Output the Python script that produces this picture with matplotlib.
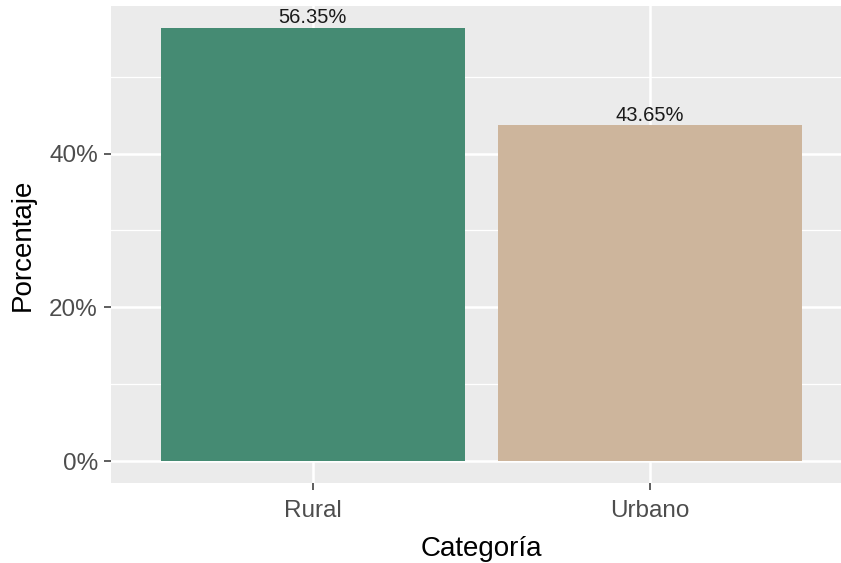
import matplotlib.pyplot as plt
from matplotlib.ticker import FixedLocator

plt.rcParams['font.family'] = ['Liberation Sans', 'DejaVu Sans']

# data
categorias = ['Rural', 'Urbano']
porcentajes = [56.35, 43.65]
colores = ['#458B73', '#CDB59C']
yticks = [0, 20, 40]
yminor = [10, 30, 50]

fig = plt.figure(figsize=(8.41, 5.63), dpi=100)
# panel runs off the right edge like in the original export
ax = fig.add_axes([110.5 / 841, 80 / 563, 742 / 841, 477 / 563])
ax.set_facecolor('#EBEBEB')

x = list(range(len(categorias)))
ax.bar(x, porcentajes, width=0.9, color=colores, zorder=3)

for xi, v in zip(x, porcentajes):
    ax.annotate(f'{v:.2f}%', (xi, v), xytext=(0, 0.5), textcoords='offset points',
                ha='center', va='bottom', fontsize=14.5, color='#1a1a1a', zorder=4)

ymax = max(porcentajes)
ax.set_ylim(-0.05 * ymax, 1.05 * ymax)
ax.set_xlim(-0.6, len(categorias) - 0.4)

ax.set_xticks(x)
ax.set_xticklabels(categorias)
ax.set_yticks(yticks)
ax.set_yticklabels([f'{t}%' for t in yticks])
ax.yaxis.set_minor_locator(FixedLocator(yminor))

ax.grid(which='major', color='white', linewidth=1.8, zorder=0)
ax.grid(which='minor', axis='y', color='white', linewidth=0.9, zorder=0)
ax.set_axisbelow(True)

for s in ax.spines.values():
    s.set_visible(False)

ax.tick_params(axis='both', which='major', length=5, width=1.1, color='#333333',
               labelsize=17.5, labelcolor='#4D4D4D', pad=4)
ax.tick_params(axis='x', which='major', pad=7)
ax.tick_params(axis='y', which='minor', length=0)

ax.set_xlabel('Categoría', fontsize=20, color='black', labelpad=10)
ax.set_ylabel('Porcentaje', fontsize=20, color='black', labelpad=10)

fig.savefig('out.png', dpi=100)
